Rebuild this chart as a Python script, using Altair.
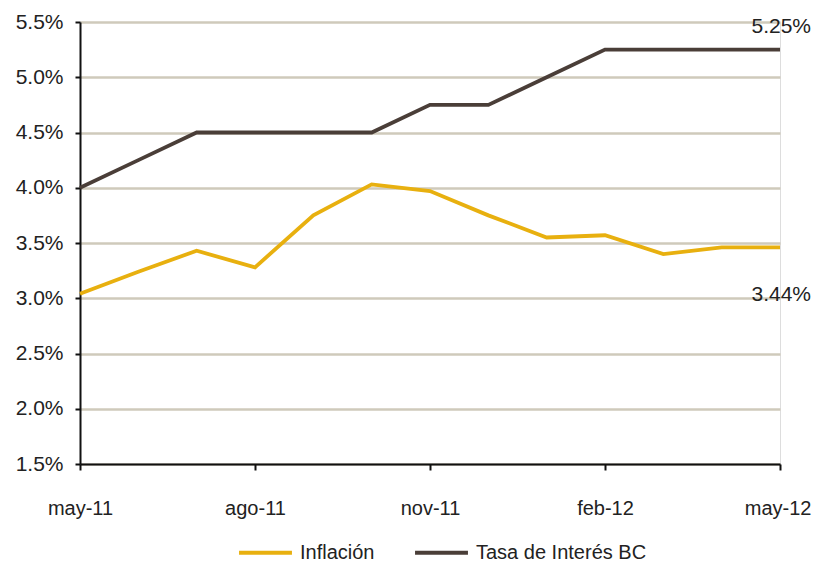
import altair as alt
import pandas as pd

months = ["may-11", "jun-11", "jul-11", "ago-11", "sep-11", "oct-11", "nov-11",
          "dic-11", "ene-12", "feb-12", "mar-12", "abr-12", "may-12"]
inflacion = [3.04, 3.24, 3.43, 3.28, 3.75, 4.03, 3.97, 3.75, 3.55, 3.57, 3.40, 3.46, 3.46]
tasa = [4.00, 4.25, 4.50, 4.50, 4.50, 4.50, 4.75, 4.75, 5.00, 5.25, 5.25, 5.25, 5.25]
series_names = ["Inflación", "Tasa de Interés BC"]
series_colors = ["#E8B00F", "#4A3E38"]
tick_months = ["may-11", "ago-11", "nov-11", "feb-12", "may-12"]
y_ticks = [1.5, 2.0, 2.5, 3.0, 3.5, 4.0, 4.5, 5.0, 5.5]
label_tasa = "5.25%"
label_infl = "3.44%"

rows = []
for m, v in zip(months, inflacion):
    rows.append({"mes": m, "valor": v, "serie": series_names[0]})
for m, v in zip(months, tasa):
    rows.append({"mes": m, "valor": v, "serie": series_names[1]})
df = pd.DataFrame(rows)

FONT = "Liberation Sans"
last_test = "datum.label == '" + months[-1] + "'"

x_enc = alt.X("mes:O", sort=months, scale=alt.Scale(type="point", padding=0),
              axis=alt.Axis(values=tick_months, title=None, labelAngle=0, grid=False,
                            domainColor="#111111", domainWidth=2, tickColor="#111111",
                            tickWidth=2, tickSize=6, labelPadding=28, labelFontSize=20,
                            labelAlign={"condition": {"test": last_test, "value": "right"},
                                        "value": "center"},
                            labelOffset={"condition": {"test": last_test, "value": 31},
                                         "value": 0},
                            labelColor="#222222", labelFont=FONT))
y_enc = alt.Y("valor:Q", scale=alt.Scale(domain=[1.5, 5.5], nice=False, zero=False),
              axis=alt.Axis(values=y_ticks, title=None,
                            labelExpr="format(datum.value, '.1f') + '%'",
                            grid=True, gridColor="#CFCABB", gridWidth=2.5,
                            domainColor="#111111", domainWidth=2, tickColor="#111111",
                            tickWidth=2, tickSize=5, labelPadding=12, labelFontSize=21,
                            labelColor="#222222", labelFont=FONT))

lines = alt.Chart(df).mark_line(strokeWidth=3.8).encode(
    x=x_enc,
    y=y_enc,
    color=alt.Color("serie:N", scale=alt.Scale(domain=series_names, range=series_colors),
                    legend=alt.Legend(title=None, orient="none", direction="horizontal",
                                      legendX=157, legendY=502,
                                      symbolType="M-1,0L1,0",
                                      symbolSize=2800, symbolStrokeWidth=4,
                                      labelFontSize=20, labelFont=FONT, labelColor="#222222",
                                      labelOffset=6, columnPadding=32, labelLimit=400)),
)

ann_t = pd.DataFrame({"mes": [months[-1]], "valor": [tasa[-1]], "txt": [label_tasa]})
ann_i = pd.DataFrame({"mes": [months[-1]], "valor": [inflacion[-1]], "txt": [label_infl]})

text_t = alt.Chart(ann_t).mark_text(align="right", baseline="middle", dx=31, dy=-23,
                                    fontSize=21, font=FONT, color="#222222").encode(
    x=alt.X("mes:O", sort=months), y="valor:Q", text="txt:N")
text_i = alt.Chart(ann_i).mark_text(align="right", baseline="middle", dx=31, dy=48,
                                    fontSize=21, font=FONT, color="#222222").encode(
    x=alt.X("mes:O", sort=months), y="valor:Q", text="txt:N")

chart = alt.layer(lines, text_t, text_i).properties(
    width=700, height=442,
    autosize=alt.AutoSizeParams(type="none"),
    padding={"left": 72, "top": 14, "right": 32, "bottom": 98},
).configure_view(stroke=None).configure(background="white")

chart.save("out.html", embed_options={"renderer": "svg", "actions": False})
